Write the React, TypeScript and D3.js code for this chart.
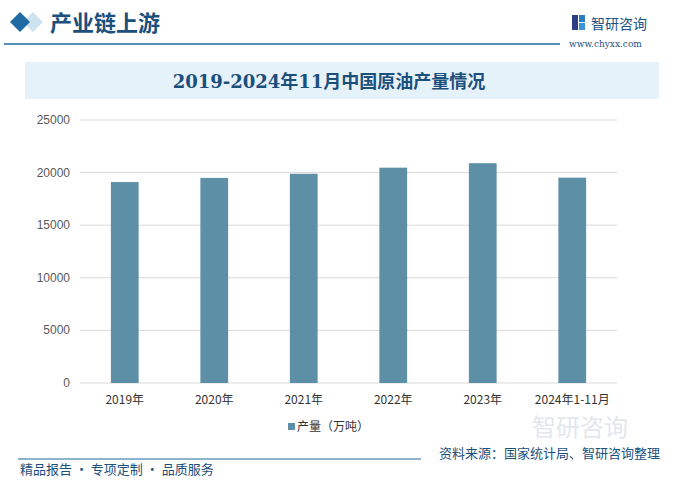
import React from "react";
import * as d3 from "d3";

const categories = ["2019年", "2020年", "2021年", "2022年", "2023年", "2024年1-11月"];
const output = [19101, 19492, 19888, 20467, 20891, 19518];
const yTicks = [0, 5000, 10000, 15000, 20000, 25000];
const seriesName = "产量（万吨）";

const W = 673;
const H = 486;
const M = { left: 80, right: 617, top: 120, bottom: 383 };

export default function App() {
  const x = d3.scaleBand<string>().domain(categories).range([M.left, M.right]).paddingInner(0.69).paddingOuter(0.345);
  const y = d3.scaleLinear().domain([0, 25000]).range([M.bottom, M.top]);
  const serif = "'DejaVu Serif', 'Noto Sans CJK SC', serif";
  const sans = "'Liberation Sans', Arial, 'Noto Sans CJK SC', sans-serif";
  const cjk = "'Noto Sans CJK SC', sans-serif";
  const dark = "#1b4f7c";
  return (
    <svg width={W} height={H} style={{ position: "absolute", left: 0, top: 0, background: "#fff" }}>
      <rect width={W} height={H} fill="#fff" />
      {/* watermark */}
      <text x={532} y={436} fontSize={24} fill="#e3e7ec" fontFamily={cjk}>智研咨询</text>
      {/* header */}
      <path d="M33,12 L43,22 L33,32 L23,22 Z" fill="#cfe2f0" />
      <path d="M20,12 L30,22 L20,32 L10,22 Z" fill="#1f6aa5" />
      <text x={50} y={31} fontSize={22} fontWeight="bold" fill={dark} fontFamily={"'Noto Sans CJK SC', serif"}>产业链上游</text>
      <line x1={4} y1={44} x2={560} y2={44} stroke="#1f6aa5" strokeWidth={1.5} />
      {/* logo */}
      <g>
        <rect x={572} y={15} width={6} height={15} fill="#2a3f86" />
        <rect x={579} y={15} width={6} height={7} fill="#2a7cc4" />
        <rect x={579} y={23} width={6} height={7} fill="#3a94d6" />
        <text x={591} y={29} fontSize={14} fill="#1d4f83" fontFamily={cjk}>智研咨询</text>
        <text x={569} y={47} fontSize={9} fill="#1d4f83" fontFamily={serif}>www.chyxx.com</text>
      </g>
      {/* title band */}
      <rect x={25} y={62} width={634} height={37} fill="#e6f2fa" />
      <text x={329} y={88} textAnchor="middle" fontSize={18} fontWeight="bold" fill={dark} fontFamily={serif}>2019-2024年11月中国原油产量情况</text>
      {/* grid */}
      {yTicks.map((t) => (
        <g key={t}>
          <line x1={M.left} x2={M.right} y1={y(t)} y2={y(t)} stroke="#d9d9d9" strokeWidth={1} />
          <text x={70} y={y(t) + 4} textAnchor="end" fontSize={12} fill="#595959" fontFamily={sans}>{t}</text>
        </g>
      ))}
      {/* bars */}
      {categories.map((c, i) => (
        <rect key={c} x={x(c)} y={y(output[i])} width={x.bandwidth()} height={y(0) - y(output[i])} fill="#5d8fa6" />
      ))}
      {categories.map((c) => (
        <text key={c} x={(x(c) as number) + x.bandwidth() / 2} y={404} textAnchor="middle" fontSize={12} fill="#333" fontFamily={cjk}>{c}</text>
      ))}
      {/* legend */}
      <rect x={288} y={423} width={7} height={7} fill="#5d8fa6" />
      <text x={297} y={431} fontSize={12} fill="#333" fontFamily={cjk}>{seriesName}</text>
      {/* footer */}
      <line x1={18} y1={459} x2={421} y2={459} stroke="#1f6aa5" strokeWidth={1.2} />
      <text x={660} y={458} textAnchor="end" fontSize={13} fill={dark} fontFamily={cjk}>资料来源：国家统计局、智研咨询整理</text>
      <text x={20} y={474} fontSize={13} fill={dark} fontFamily={cjk}>精品报告 · 专项定制 · 品质服务</text>
    </svg>
  );
}
